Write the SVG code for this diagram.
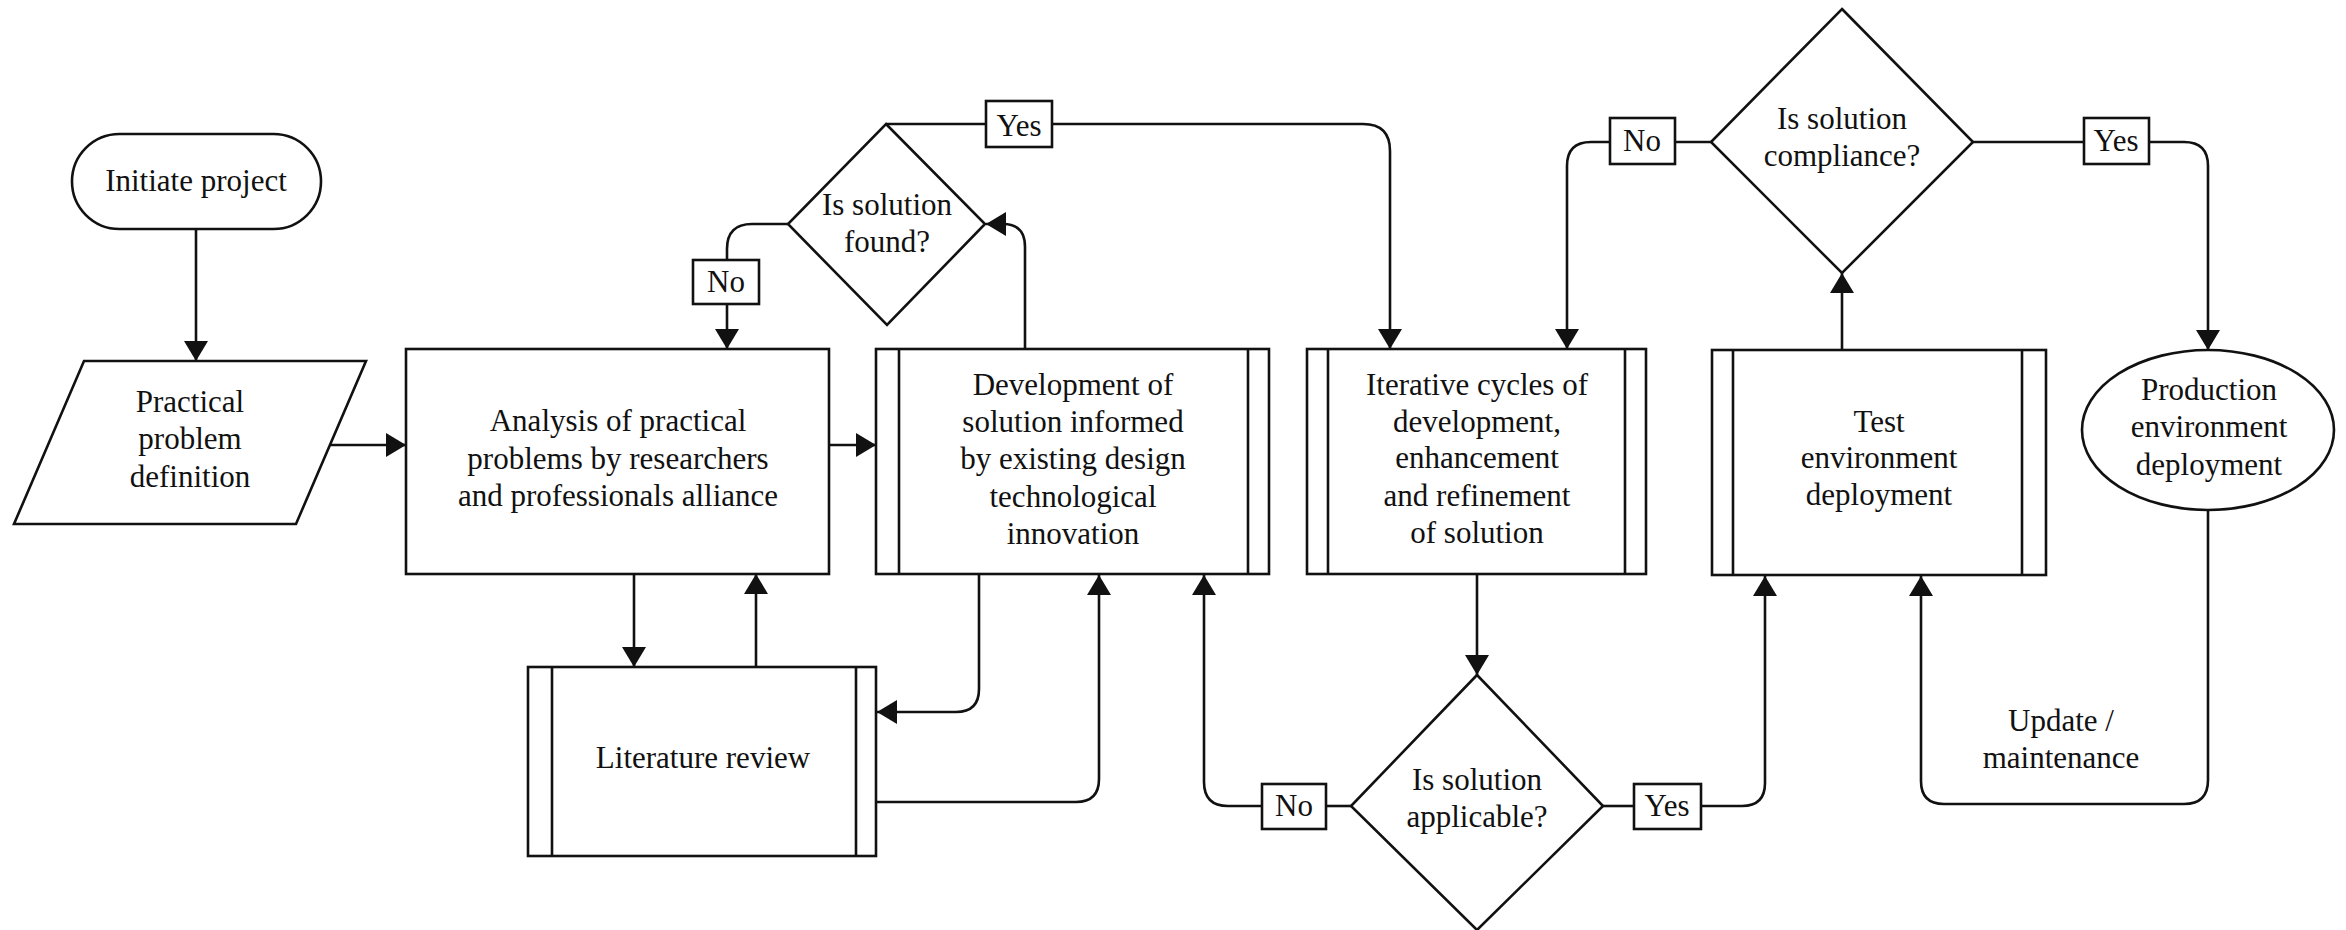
<svg xmlns="http://www.w3.org/2000/svg" width="2346" height="930" viewBox="0 0 2346 930">
  <style>
    .shape { fill: #fff; stroke: #111; stroke-width: 2.6; }
    .bar { fill: none; stroke: #111; stroke-width: 2.6; }
    .conn { fill: none; stroke: #111; stroke-width: 2.6; }
    .arrow { marker-end: url(#head); }
    text { font-family: "Liberation Serif", "Times New Roman", serif; font-size: 31px; fill: #111; text-anchor: middle; }
  </style>
  <defs>
    <marker id="head" markerUnits="userSpaceOnUse" markerWidth="20" markerHeight="24" refX="20" refY="12" orient="auto">
      <path d="M0,0 L20,12 L0,24 Z" fill="#111"/>
    </marker>
  </defs>
  <rect width="2346" height="930" fill="#fff"/>

  <!-- connectors -->
  <g id="connectors">
    <path class="conn arrow" d="M196,229 V361"/>
    <path class="conn arrow" d="M330,445 H406"/>
    <path class="conn arrow" d="M829,445 H876"/>
    <path class="conn arrow" d="M634,574 V667"/>
    <path class="conn arrow" d="M756,667 V574"/>
    <path class="conn arrow" d="M979,574 V689 Q979,712 956,712 H877"/>
    <path class="conn arrow" d="M876,802 H1076 Q1099,802 1099,779 V575"/>
    <path class="conn arrow" d="M1025,349 V247 Q1025,224 1003,224 H986"/>
    <!-- found: No branch -->
    <path class="conn" d="M788,224 H752 Q727,224 727,249 V260"/>
    <path class="conn arrow" d="M727,304 V349"/>
    <!-- found: Yes branch -->
    <path class="conn" d="M886,124 H986"/>
    <path class="conn arrow" d="M1052,124 H1363 Q1390,124 1390,151 V349"/>
    <!-- iterative to applicable -->
    <path class="conn arrow" d="M1477,574 V675"/>
    <!-- applicable: No branch -->
    <path class="conn" d="M1351,806 H1326"/>
    <path class="conn arrow" d="M1262,806 H1228 Q1204,806 1204,782 V575"/>
    <!-- applicable: Yes branch -->
    <path class="conn" d="M1603,806 H1634"/>
    <path class="conn arrow" d="M1701,806 H1742 Q1765,806 1765,783 V576"/>
    <!-- test to compliance -->
    <path class="conn arrow" d="M1842,350 V273"/>
    <!-- compliance: No branch -->
    <path class="conn" d="M1711,142 H1675"/>
    <path class="conn arrow" d="M1610,142 H1591 Q1567,142 1567,166 V349"/>
    <!-- compliance: Yes branch -->
    <path class="conn" d="M1973,142 H2084"/>
    <path class="conn arrow" d="M2149,142 H2184 Q2208,142 2208,166 V350"/>
    <!-- update / maintenance loop -->
    <path class="conn arrow" d="M2208,510 V780 Q2208,804 2184,804 H1944 Q1921,804 1921,781 V576"/>
  </g>

  <!-- connector labels -->
  <g id="label-found-no">
    <rect class="shape" x="693" y="260" width="66" height="44"/>
    <text x="726" y="292">No</text>
  </g>
  <g id="label-found-yes">
    <rect class="shape" x="986" y="101" width="66" height="46"/>
    <text x="1019" y="136">Yes</text>
  </g>
  <g id="label-applicable-no">
    <rect class="shape" x="1262" y="784" width="64" height="45"/>
    <text x="1294" y="816">No</text>
  </g>
  <g id="label-applicable-yes">
    <rect class="shape" x="1634" y="784" width="67" height="45"/>
    <text x="1667" y="816">Yes</text>
  </g>
  <g id="label-compliance-no">
    <rect class="shape" x="1610" y="118" width="65" height="46"/>
    <text x="1642" y="151">No</text>
  </g>
  <g id="label-compliance-yes">
    <rect class="shape" x="2084" y="118" width="65" height="46"/>
    <text x="2116" y="151">Yes</text>
  </g>
  <g id="label-update">
    <text x="2061" y="731">Update /</text>
    <text x="2061" y="768">maintenance</text>
  </g>

  <!-- nodes -->
  <g id="initiate">
    <rect class="shape" x="72" y="134" width="249" height="95" rx="47.5" ry="47.5"/>
    <text x="196" y="191">Initiate project</text>
  </g>

  <g id="problem-definition">
    <polygon class="shape" points="84,361 366,361 296,524 14,524"/>
    <text x="190" y="412">Practical</text>
    <text x="190" y="449">problem</text>
    <text x="190" y="487">definition</text>
  </g>

  <g id="analysis">
    <rect class="shape" x="406" y="349" width="423" height="225"/>
    <text x="618" y="431">Analysis of practical</text>
    <text x="618" y="469">problems by researchers</text>
    <text x="618" y="506">and professionals alliance</text>
  </g>

  <g id="literature">
    <rect class="shape" x="528" y="667" width="348" height="189"/>
    <path class="bar" d="M552,667 V856 M856,667 V856"/>
    <text x="703" y="768">Literature review</text>
  </g>

  <g id="development">
    <rect class="shape" x="876" y="349" width="393" height="225"/>
    <path class="bar" d="M899,349 V574 M1248,349 V574"/>
    <text x="1073" y="395">Development of</text>
    <text x="1073" y="432">solution informed</text>
    <text x="1073" y="469">by existing design</text>
    <text x="1073" y="507">technological</text>
    <text x="1073" y="544">innovation</text>
  </g>

  <g id="solution-found">
    <polygon class="shape" points="886,124 985,224 887,325 788,224"/>
    <text x="887" y="215">Is solution</text>
    <text x="887" y="252">found?</text>
  </g>

  <g id="iterative">
    <rect class="shape" x="1307" y="349" width="339" height="225"/>
    <path class="bar" d="M1328,349 V574 M1625,349 V574"/>
    <text x="1477" y="395">Iterative cycles of</text>
    <text x="1477" y="432">development,</text>
    <text x="1477" y="468">enhancement</text>
    <text x="1477" y="506">and refinement</text>
    <text x="1477" y="543">of solution</text>
  </g>

  <g id="solution-applicable">
    <polygon class="shape" points="1477,675 1603,806 1477,930 1351,806"/>
    <text x="1477" y="790">Is solution</text>
    <text x="1477" y="827">applicable?</text>
  </g>

  <g id="test-deployment">
    <rect class="shape" x="1712" y="350" width="334" height="225"/>
    <path class="bar" d="M1733,350 V575 M2022,350 V575"/>
    <text x="1879" y="432">Test</text>
    <text x="1879" y="468">environment</text>
    <text x="1879" y="505">deployment</text>
  </g>

  <g id="solution-compliance">
    <polygon class="shape" points="1842,9 1973,142 1842,273 1711,142"/>
    <text x="1842" y="129">Is solution</text>
    <text x="1842" y="166">compliance?</text>
  </g>

  <g id="production-deployment">
    <ellipse class="shape" cx="2208" cy="430" rx="126" ry="80"/>
    <text x="2209" y="400">Production</text>
    <text x="2209" y="437">environment</text>
    <text x="2209" y="475">deployment</text>
  </g>
</svg>
